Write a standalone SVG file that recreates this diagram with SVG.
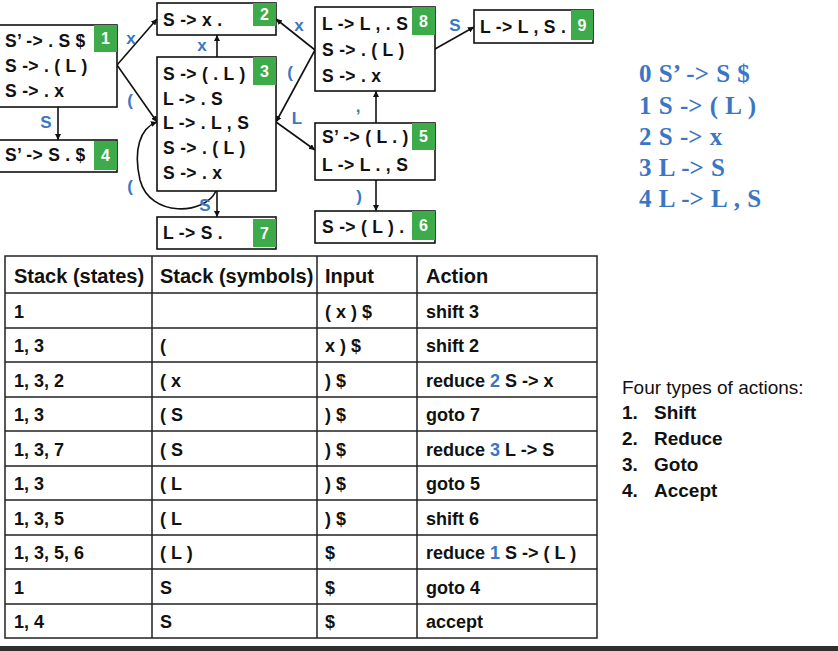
<svg xmlns="http://www.w3.org/2000/svg" width="838" height="651" viewBox="0 0 838 651">
<style>
.box{fill:#fff;stroke:#111;stroke-width:1.6}
.badge{fill:#3dab4a}
.bn{font-family:"Liberation Sans",Arial,sans-serif;font-weight:bold;font-size:16px;fill:#fff;text-anchor:middle}
.it{font-family:"Liberation Sans",Arial,sans-serif;font-weight:bold;font-size:17.5px;letter-spacing:0.3px;fill:#111}
.lbl{font-family:"Liberation Sans",Arial,sans-serif;font-weight:bold;font-size:17px;fill:#3a76c4;text-anchor:middle}
.edge{fill:none;stroke:#111;stroke-width:1.6}
.gram{font-family:"Liberation Serif","Times New Roman",serif;font-weight:bold;font-size:25px;word-spacing:1px;fill:#3a76c4}
.th{font-family:"Liberation Sans",Arial,sans-serif;font-weight:bold;font-size:20px;fill:#111}
.td{font-family:"Liberation Sans",Arial,sans-serif;font-weight:bold;font-size:18px;fill:#111}
.blue{fill:#3a76c4}
.grid{stroke:#222;stroke-width:1.5;fill:none}
.note{font-family:"Liberation Sans",Arial,sans-serif;font-size:19px;fill:#111}
.noteb{font-family:"Liberation Sans",Arial,sans-serif;font-weight:bold;font-size:19px;fill:#111}
</style>
<defs>
<marker id="ah" viewBox="0 0 10 10" refX="10" refY="5" markerWidth="6" markerHeight="6" markerUnits="userSpaceOnUse" orient="auto">
<path d="M0,0 L10,5 L0,10 z" fill="#111"/>
</marker>
</defs>
<rect width="838" height="651" fill="#fff"/>

<g id="connectors">
<line class="edge" x1="58" y1="107" x2="58" y2="140" marker-end="url(#ah)"/>
<line class="edge" x1="117" y1="65" x2="157" y2="19" marker-end="url(#ah)"/>
<line class="edge" x1="117" y1="65" x2="157" y2="122" marker-end="url(#ah)"/>
<line class="edge" x1="217" y1="57" x2="217" y2="35" marker-end="url(#ah)"/>
<line class="edge" x1="217" y1="191" x2="217" y2="217" marker-end="url(#ah)"/>
<path class="edge" d="M216,191 C205,215 150,218 140,180 C133,150 140,128 157,122" marker-end="url(#ah)"/>
<line class="edge" x1="315" y1="50" x2="276" y2="19" marker-end="url(#ah)"/>
<line class="edge" x1="315" y1="50" x2="276" y2="122" marker-end="url(#ah)"/>
<line class="edge" x1="276" y1="122" x2="315" y2="150" marker-end="url(#ah)"/>
<line class="edge" x1="376" y1="123" x2="376" y2="91" marker-end="url(#ah)"/>
<line class="edge" x1="376" y1="180" x2="376" y2="211" marker-end="url(#ah)"/>
<line class="edge" x1="435" y1="49" x2="474" y2="27" marker-end="url(#ah)"/>
<text class="lbl" x="46" y="128">S</text>
<text class="lbl" x="131" y="44">x</text>
<text class="lbl" x="130" y="106">(</text>
<text class="lbl" x="202" y="51">x</text>
<text class="lbl" x="205" y="211">S</text>
<text class="lbl" x="130" y="192">(</text>
<text class="lbl" x="299" y="31">x</text>
<text class="lbl" x="290" y="78">(</text>
<text class="lbl" x="297" y="124">L</text>
<text class="lbl" x="455" y="31">S</text>
<text class="lbl" x="358" y="112">,</text>
<text class="lbl" x="359" y="202">)</text>
</g>

<g id="state1">
<rect class="box" x="-2" y="25" width="119" height="82"/>
<rect class="badge" x="94" y="25" width="23" height="27"/>
<text class="bn" x="105.5" y="44">1</text>
<text class="it" x="5" y="47">S’ -&gt; . S $</text>
<text class="it" x="5" y="72">S -&gt; . ( L )</text>
<text class="it" x="5" y="97">S -&gt; . x</text>
</g>
<g id="state4">
<rect class="box" x="-2" y="140" width="119" height="32"/>
<rect class="badge" x="94" y="141" width="23" height="29"/>
<text class="bn" x="105.5" y="161">4</text>
<text class="it" x="5" y="161">S’ -&gt; S . $</text>
</g>
<g id="state2">
<rect class="box" x="157" y="3" width="119" height="32"/>
<rect class="badge" x="253" y="3" width="23" height="23"/>
<text class="bn" x="264.5" y="20">2</text>
<text class="it" x="163" y="26">S -&gt; x .</text>
</g>
<g id="state3">
<rect class="box" x="157" y="57" width="119" height="134"/>
<rect class="badge" x="253" y="57" width="23" height="28"/>
<text class="bn" x="264.5" y="77">3</text>
<text class="it" x="163" y="80">S -&gt; ( . L )</text>
<text class="it" x="163" y="105">L -&gt; . S</text>
<text class="it" x="163" y="129">L -&gt; . L , S</text>
<text class="it" x="163" y="154">S -&gt; . ( L )</text>
<text class="it" x="163" y="179">S -&gt; . x</text>
</g>
<g id="state7">
<rect class="box" x="157" y="217" width="119" height="32"/>
<rect class="badge" x="253" y="219" width="23" height="28"/>
<text class="bn" x="264.5" y="239">7</text>
<text class="it" x="163" y="239">L -&gt; S .</text>
</g>
<g id="state8">
<rect class="box" x="315" y="7" width="120" height="84"/>
<rect class="badge" x="412" y="7" width="23" height="28"/>
<text class="bn" x="423.5" y="27">8</text>
<text class="it" x="322" y="30">L -&gt; L , . S</text>
<text class="it" x="322" y="56">S -&gt; . ( L )</text>
<text class="it" x="322" y="82">S -&gt; . x</text>
</g>
<g id="state9">
<rect class="box" x="474" y="10" width="119" height="33"/>
<rect class="badge" x="571" y="10" width="22" height="30"/>
<text class="bn" x="582" y="31">9</text>
<text class="it" x="480" y="33">L -&gt; L , S .</text>
</g>
<g id="state5">
<rect class="box" x="315" y="123" width="120" height="57"/>
<rect class="badge" x="412" y="123" width="23" height="27"/>
<text class="bn" x="423.5" y="142">5</text>
<text class="it" x="322" y="143">S’ -&gt; ( L . )</text>
<text class="it" x="322" y="171">L -&gt; L . , S</text>
</g>
<g id="state6">
<rect class="box" x="315" y="211" width="120" height="32"/>
<rect class="badge" x="412" y="211" width="23" height="29"/>
<text class="bn" x="423.5" y="231">6</text>
<text class="it" x="322" y="233">S -&gt; ( L ) .</text>
</g>

<g id="grammar">
<text class="gram" x="639" y="82">0 S’ -&gt; S $</text>
<text class="gram" x="639" y="114">1 S -&gt; ( L )</text>
<text class="gram" x="639" y="145">2 S -&gt; x</text>
<text class="gram" x="639" y="176">3 L -&gt; S</text>
<text class="gram" x="639" y="207">4 L -&gt; L , S</text>
</g>

<g id="table">
<rect class="grid" x="5" y="256" width="592" height="382"/>
<path class="grid" d="M152,256V638M317,256V638M417,256V638M5,293H597M5,328H597M5,362H597M5,397H597M5,431H597M5,466H597M5,500H597M5,535H597M5,569H597M5,604H597"/>
<text class="th" x="14" y="283">Stack (states)</text>
<text class="th" x="160" y="283">Stack (symbols)</text>
<text class="th" x="325" y="283">Input</text>
<text class="th" x="426" y="283">Action</text>

<text class="td" x="14" y="318">1</text>
<text class="td" x="325" y="318">( x ) $</text>
<text class="td" x="426" y="318">shift 3</text>

<text class="td" x="14" y="352">1, 3</text>
<text class="td" x="160" y="352">(</text>
<text class="td" x="325" y="352">x ) $</text>
<text class="td" x="426" y="352">shift 2</text>

<text class="td" x="14" y="387">1, 3, 2</text>
<text class="td" x="160" y="387">( x</text>
<text class="td" x="325" y="387">) $</text>
<text class="td" x="426" y="387">reduce <tspan class="blue">2</tspan> S -&gt; x</text>

<text class="td" x="14" y="421">1, 3</text>
<text class="td" x="160" y="421">( S</text>
<text class="td" x="325" y="421">) $</text>
<text class="td" x="426" y="421">goto 7</text>

<text class="td" x="14" y="456">1, 3, 7</text>
<text class="td" x="160" y="456">( S</text>
<text class="td" x="325" y="456">) $</text>
<text class="td" x="426" y="456">reduce <tspan class="blue">3</tspan> L -&gt; S</text>

<text class="td" x="14" y="490">1, 3</text>
<text class="td" x="160" y="490">( L</text>
<text class="td" x="325" y="490">) $</text>
<text class="td" x="426" y="490">goto 5</text>

<text class="td" x="14" y="525">1, 3, 5</text>
<text class="td" x="160" y="525">( L</text>
<text class="td" x="325" y="525">) $</text>
<text class="td" x="426" y="525">shift 6</text>

<text class="td" x="14" y="559">1, 3, 5, 6</text>
<text class="td" x="160" y="559">( L )</text>
<text class="td" x="325" y="559">$</text>
<text class="td" x="426" y="559">reduce <tspan class="blue">1</tspan> S -&gt; ( L )</text>

<text class="td" x="14" y="594">1</text>
<text class="td" x="160" y="594">S</text>
<text class="td" x="325" y="594">$</text>
<text class="td" x="426" y="594">goto 4</text>

<text class="td" x="14" y="628">1, 4</text>
<text class="td" x="160" y="628">S</text>
<text class="td" x="325" y="628">$</text>
<text class="td" x="426" y="628">accept</text>
</g>

<g id="actions">
<text class="note" x="622" y="394">Four types of actions:</text>
<text class="noteb" x="622" y="419">1.</text><text class="noteb" x="654" y="419">Shift</text>
<text class="noteb" x="622" y="445">2.</text><text class="noteb" x="654" y="445">Reduce</text>
<text class="noteb" x="622" y="471">3.</text><text class="noteb" x="654" y="471">Goto</text>
<text class="noteb" x="622" y="497">4.</text><text class="noteb" x="654" y="497">Accept</text>
</g>

<rect x="0" y="646" width="838" height="5" fill="#2e2e2e"/>
</svg>
